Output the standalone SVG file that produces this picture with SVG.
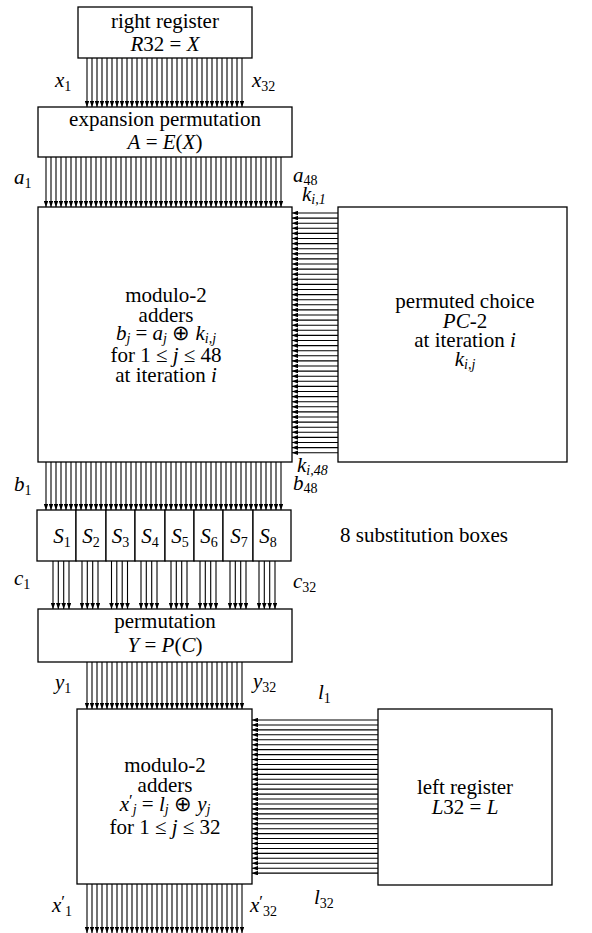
<svg xmlns="http://www.w3.org/2000/svg" width="592" height="933" viewBox="0 0 592 933">
<style>
.b{fill:#fff;stroke:#000;stroke-width:1.3}
.t{font-family:"Liberation Serif","Times New Roman",serif;font-size:21px;fill:#000;text-anchor:middle}
.l{font-family:"Liberation Serif","Times New Roman",serif;font-size:21px;fill:#000}
.i{font-style:italic}
.s{font-size:14px}
.p{font-size:17px}
#conn line{stroke:#000;stroke-width:1.1;marker-end:url(#ah)}
</style>
<defs>
<marker id="ah" markerUnits="userSpaceOnUse" markerWidth="6" markerHeight="4.6" refX="6" refY="2.3" orient="auto"><path d="M0,0 L6,2.3 L0,4.6 z" fill="#000"/></marker>
</defs>
<rect width="592" height="933" fill="#fff"/>
<g id="conn">
<g id="c-top">
<line x1="87" y1="58" x2="87" y2="107"/><line x1="92" y1="58" x2="92" y2="107"/><line x1="97" y1="58" x2="97" y2="107"/><line x1="102" y1="58" x2="102" y2="107"/><line x1="107" y1="58" x2="107" y2="107"/><line x1="112" y1="58" x2="112" y2="107"/><line x1="117" y1="58" x2="117" y2="107"/><line x1="122" y1="58" x2="122" y2="107"/><line x1="127" y1="58" x2="127" y2="107"/><line x1="132" y1="58" x2="132" y2="107"/><line x1="137" y1="58" x2="137" y2="107"/><line x1="142" y1="58" x2="142" y2="107"/><line x1="147" y1="58" x2="147" y2="107"/><line x1="152" y1="58" x2="152" y2="107"/><line x1="157" y1="58" x2="157" y2="107"/><line x1="162" y1="58" x2="162" y2="107"/><line x1="167" y1="58" x2="167" y2="107"/><line x1="172" y1="58" x2="172" y2="107"/><line x1="177" y1="58" x2="177" y2="107"/><line x1="182" y1="58" x2="182" y2="107"/><line x1="187" y1="58" x2="187" y2="107"/><line x1="192" y1="58" x2="192" y2="107"/><line x1="197" y1="58" x2="197" y2="107"/><line x1="202" y1="58" x2="202" y2="107"/><line x1="207" y1="58" x2="207" y2="107"/><line x1="212" y1="58" x2="212" y2="107"/><line x1="217" y1="58" x2="217" y2="107"/><line x1="222" y1="58" x2="222" y2="107"/><line x1="227" y1="58" x2="227" y2="107"/><line x1="232" y1="58" x2="232" y2="107"/><line x1="237" y1="58" x2="237" y2="107"/><line x1="242" y1="58" x2="242" y2="107"/>
</g>
<g id="c-exp">
<line x1="46" y1="157" x2="46" y2="207"/><line x1="51" y1="157" x2="51" y2="207"/><line x1="56" y1="157" x2="56" y2="207"/><line x1="61" y1="157" x2="61" y2="207"/><line x1="66" y1="157" x2="66" y2="207"/><line x1="71" y1="157" x2="71" y2="207"/><line x1="76" y1="157" x2="76" y2="207"/><line x1="81" y1="157" x2="81" y2="207"/><line x1="86" y1="157" x2="86" y2="207"/><line x1="91" y1="157" x2="91" y2="207"/><line x1="96" y1="157" x2="96" y2="207"/><line x1="101" y1="157" x2="101" y2="207"/><line x1="106" y1="157" x2="106" y2="207"/><line x1="111" y1="157" x2="111" y2="207"/><line x1="116" y1="157" x2="116" y2="207"/><line x1="121" y1="157" x2="121" y2="207"/><line x1="126" y1="157" x2="126" y2="207"/><line x1="131" y1="157" x2="131" y2="207"/><line x1="136" y1="157" x2="136" y2="207"/><line x1="141" y1="157" x2="141" y2="207"/><line x1="146" y1="157" x2="146" y2="207"/><line x1="151" y1="157" x2="151" y2="207"/><line x1="156" y1="157" x2="156" y2="207"/><line x1="161" y1="157" x2="161" y2="207"/><line x1="166" y1="157" x2="166" y2="207"/><line x1="171" y1="157" x2="171" y2="207"/><line x1="176" y1="157" x2="176" y2="207"/><line x1="181" y1="157" x2="181" y2="207"/><line x1="186" y1="157" x2="186" y2="207"/><line x1="191" y1="157" x2="191" y2="207"/><line x1="196" y1="157" x2="196" y2="207"/><line x1="201" y1="157" x2="201" y2="207"/><line x1="206" y1="157" x2="206" y2="207"/><line x1="211" y1="157" x2="211" y2="207"/><line x1="216" y1="157" x2="216" y2="207"/><line x1="221" y1="157" x2="221" y2="207"/><line x1="226" y1="157" x2="226" y2="207"/><line x1="231" y1="157" x2="231" y2="207"/><line x1="236" y1="157" x2="236" y2="207"/><line x1="241" y1="157" x2="241" y2="207"/><line x1="246" y1="157" x2="246" y2="207"/><line x1="251" y1="157" x2="251" y2="207"/><line x1="256" y1="157" x2="256" y2="207"/><line x1="261" y1="157" x2="261" y2="207"/><line x1="266" y1="157" x2="266" y2="207"/><line x1="271" y1="157" x2="271" y2="207"/><line x1="276" y1="157" x2="276" y2="207"/><line x1="281" y1="157" x2="281" y2="207"/>
</g>
<g id="c-key">
<line x1="338" y1="213" x2="292" y2="213"/><line x1="338" y1="218.1" x2="292" y2="218.1"/><line x1="338" y1="223.2" x2="292" y2="223.2"/><line x1="338" y1="228.3" x2="292" y2="228.3"/><line x1="338" y1="233.4" x2="292" y2="233.4"/><line x1="338" y1="238.5" x2="292" y2="238.5"/><line x1="338" y1="243.6" x2="292" y2="243.6"/><line x1="338" y1="248.7" x2="292" y2="248.7"/><line x1="338" y1="253.8" x2="292" y2="253.8"/><line x1="338" y1="258.9" x2="292" y2="258.9"/><line x1="338" y1="264" x2="292" y2="264"/><line x1="338" y1="269.1" x2="292" y2="269.1"/><line x1="338" y1="274.2" x2="292" y2="274.2"/><line x1="338" y1="279.3" x2="292" y2="279.3"/><line x1="338" y1="284.4" x2="292" y2="284.4"/><line x1="338" y1="289.5" x2="292" y2="289.5"/><line x1="338" y1="294.6" x2="292" y2="294.6"/><line x1="338" y1="299.7" x2="292" y2="299.7"/><line x1="338" y1="304.8" x2="292" y2="304.8"/><line x1="338" y1="309.9" x2="292" y2="309.9"/><line x1="338" y1="315" x2="292" y2="315"/><line x1="338" y1="320.1" x2="292" y2="320.1"/><line x1="338" y1="325.2" x2="292" y2="325.2"/><line x1="338" y1="330.3" x2="292" y2="330.3"/><line x1="338" y1="335.4" x2="292" y2="335.4"/><line x1="338" y1="340.5" x2="292" y2="340.5"/><line x1="338" y1="345.6" x2="292" y2="345.6"/><line x1="338" y1="350.7" x2="292" y2="350.7"/><line x1="338" y1="355.8" x2="292" y2="355.8"/><line x1="338" y1="360.9" x2="292" y2="360.9"/><line x1="338" y1="366" x2="292" y2="366"/><line x1="338" y1="371.1" x2="292" y2="371.1"/><line x1="338" y1="376.2" x2="292" y2="376.2"/><line x1="338" y1="381.3" x2="292" y2="381.3"/><line x1="338" y1="386.4" x2="292" y2="386.4"/><line x1="338" y1="391.5" x2="292" y2="391.5"/><line x1="338" y1="396.6" x2="292" y2="396.6"/><line x1="338" y1="401.7" x2="292" y2="401.7"/><line x1="338" y1="406.8" x2="292" y2="406.8"/><line x1="338" y1="411.9" x2="292" y2="411.9"/><line x1="338" y1="417" x2="292" y2="417"/><line x1="338" y1="422.1" x2="292" y2="422.1"/><line x1="338" y1="427.2" x2="292" y2="427.2"/><line x1="338" y1="432.3" x2="292" y2="432.3"/><line x1="338" y1="437.4" x2="292" y2="437.4"/><line x1="338" y1="442.5" x2="292" y2="442.5"/><line x1="338" y1="447.6" x2="292" y2="447.6"/><line x1="338" y1="452.7" x2="292" y2="452.7"/>
</g>
<g id="c-add">
<line x1="46" y1="462" x2="46" y2="510"/><line x1="51" y1="462" x2="51" y2="510"/><line x1="56" y1="462" x2="56" y2="510"/><line x1="61" y1="462" x2="61" y2="510"/><line x1="66" y1="462" x2="66" y2="510"/><line x1="71" y1="462" x2="71" y2="510"/><line x1="76" y1="462" x2="76" y2="510"/><line x1="81" y1="462" x2="81" y2="510"/><line x1="86" y1="462" x2="86" y2="510"/><line x1="91" y1="462" x2="91" y2="510"/><line x1="96" y1="462" x2="96" y2="510"/><line x1="101" y1="462" x2="101" y2="510"/><line x1="106" y1="462" x2="106" y2="510"/><line x1="111" y1="462" x2="111" y2="510"/><line x1="116" y1="462" x2="116" y2="510"/><line x1="121" y1="462" x2="121" y2="510"/><line x1="126" y1="462" x2="126" y2="510"/><line x1="131" y1="462" x2="131" y2="510"/><line x1="136" y1="462" x2="136" y2="510"/><line x1="141" y1="462" x2="141" y2="510"/><line x1="146" y1="462" x2="146" y2="510"/><line x1="151" y1="462" x2="151" y2="510"/><line x1="156" y1="462" x2="156" y2="510"/><line x1="161" y1="462" x2="161" y2="510"/><line x1="166" y1="462" x2="166" y2="510"/><line x1="171" y1="462" x2="171" y2="510"/><line x1="176" y1="462" x2="176" y2="510"/><line x1="181" y1="462" x2="181" y2="510"/><line x1="186" y1="462" x2="186" y2="510"/><line x1="191" y1="462" x2="191" y2="510"/><line x1="196" y1="462" x2="196" y2="510"/><line x1="201" y1="462" x2="201" y2="510"/><line x1="206" y1="462" x2="206" y2="510"/><line x1="211" y1="462" x2="211" y2="510"/><line x1="216" y1="462" x2="216" y2="510"/><line x1="221" y1="462" x2="221" y2="510"/><line x1="226" y1="462" x2="226" y2="510"/><line x1="231" y1="462" x2="231" y2="510"/><line x1="236" y1="462" x2="236" y2="510"/><line x1="241" y1="462" x2="241" y2="510"/><line x1="246" y1="462" x2="246" y2="510"/><line x1="251" y1="462" x2="251" y2="510"/><line x1="256" y1="462" x2="256" y2="510"/><line x1="261" y1="462" x2="261" y2="510"/><line x1="266" y1="462" x2="266" y2="510"/><line x1="271" y1="462" x2="271" y2="510"/><line x1="276" y1="462" x2="276" y2="510"/><line x1="281" y1="462" x2="281" y2="510"/>
</g>
<g id="c-sbox">
<line x1="53" y1="561" x2="53" y2="609"/><line x1="58.3" y1="561" x2="58.3" y2="609"/><line x1="63.7" y1="561" x2="63.7" y2="609"/><line x1="69" y1="561" x2="69" y2="609"/>
<line x1="82" y1="561" x2="82" y2="609"/><line x1="87.3" y1="561" x2="87.3" y2="609"/><line x1="92.7" y1="561" x2="92.7" y2="609"/><line x1="98" y1="561" x2="98" y2="609"/>
<line x1="111.5" y1="561" x2="111.5" y2="609"/><line x1="116.8" y1="561" x2="116.8" y2="609"/><line x1="122.2" y1="561" x2="122.2" y2="609"/><line x1="127.5" y1="561" x2="127.5" y2="609"/>
<line x1="141" y1="561" x2="141" y2="609"/><line x1="146.3" y1="561" x2="146.3" y2="609"/><line x1="151.7" y1="561" x2="151.7" y2="609"/><line x1="157" y1="561" x2="157" y2="609"/>
<line x1="171" y1="561" x2="171" y2="609"/><line x1="176.3" y1="561" x2="176.3" y2="609"/><line x1="181.7" y1="561" x2="181.7" y2="609"/><line x1="187" y1="561" x2="187" y2="609"/>
<line x1="200" y1="561" x2="200" y2="609"/><line x1="205.3" y1="561" x2="205.3" y2="609"/><line x1="210.7" y1="561" x2="210.7" y2="609"/><line x1="216" y1="561" x2="216" y2="609"/>
<line x1="230" y1="561" x2="230" y2="609"/><line x1="235.3" y1="561" x2="235.3" y2="609"/><line x1="240.7" y1="561" x2="240.7" y2="609"/><line x1="246" y1="561" x2="246" y2="609"/>
<line x1="259" y1="561" x2="259" y2="609"/><line x1="264.3" y1="561" x2="264.3" y2="609"/><line x1="269.7" y1="561" x2="269.7" y2="609"/><line x1="275" y1="561" x2="275" y2="609"/>
</g>
<g id="c-perm">
<line x1="87" y1="662" x2="87" y2="709"/><line x1="92" y1="662" x2="92" y2="709"/><line x1="97" y1="662" x2="97" y2="709"/><line x1="102" y1="662" x2="102" y2="709"/><line x1="107" y1="662" x2="107" y2="709"/><line x1="112" y1="662" x2="112" y2="709"/><line x1="117" y1="662" x2="117" y2="709"/><line x1="122" y1="662" x2="122" y2="709"/><line x1="127" y1="662" x2="127" y2="709"/><line x1="132" y1="662" x2="132" y2="709"/><line x1="137" y1="662" x2="137" y2="709"/><line x1="142" y1="662" x2="142" y2="709"/><line x1="147" y1="662" x2="147" y2="709"/><line x1="152" y1="662" x2="152" y2="709"/><line x1="157" y1="662" x2="157" y2="709"/><line x1="162" y1="662" x2="162" y2="709"/><line x1="167" y1="662" x2="167" y2="709"/><line x1="172" y1="662" x2="172" y2="709"/><line x1="177" y1="662" x2="177" y2="709"/><line x1="182" y1="662" x2="182" y2="709"/><line x1="187" y1="662" x2="187" y2="709"/><line x1="192" y1="662" x2="192" y2="709"/><line x1="197" y1="662" x2="197" y2="709"/><line x1="202" y1="662" x2="202" y2="709"/><line x1="207" y1="662" x2="207" y2="709"/><line x1="212" y1="662" x2="212" y2="709"/><line x1="217" y1="662" x2="217" y2="709"/><line x1="222" y1="662" x2="222" y2="709"/><line x1="227" y1="662" x2="227" y2="709"/><line x1="232" y1="662" x2="232" y2="709"/><line x1="237" y1="662" x2="237" y2="709"/><line x1="242" y1="662" x2="242" y2="709"/>
</g>
<g id="c-left">
<line x1="378" y1="720" x2="252" y2="720"/><line x1="378" y1="724.94" x2="252" y2="724.94"/><line x1="378" y1="729.88" x2="252" y2="729.88"/><line x1="378" y1="734.82" x2="252" y2="734.82"/><line x1="378" y1="739.76" x2="252" y2="739.76"/><line x1="378" y1="744.7" x2="252" y2="744.7"/><line x1="378" y1="749.64" x2="252" y2="749.64"/><line x1="378" y1="754.58" x2="252" y2="754.58"/><line x1="378" y1="759.52" x2="252" y2="759.52"/><line x1="378" y1="764.46" x2="252" y2="764.46"/><line x1="378" y1="769.4" x2="252" y2="769.4"/><line x1="378" y1="774.34" x2="252" y2="774.34"/><line x1="378" y1="779.28" x2="252" y2="779.28"/><line x1="378" y1="784.22" x2="252" y2="784.22"/><line x1="378" y1="789.16" x2="252" y2="789.16"/><line x1="378" y1="794.1" x2="252" y2="794.1"/><line x1="378" y1="799.04" x2="252" y2="799.04"/><line x1="378" y1="803.98" x2="252" y2="803.98"/><line x1="378" y1="808.92" x2="252" y2="808.92"/><line x1="378" y1="813.86" x2="252" y2="813.86"/><line x1="378" y1="818.8" x2="252" y2="818.8"/><line x1="378" y1="823.74" x2="252" y2="823.74"/><line x1="378" y1="828.68" x2="252" y2="828.68"/><line x1="378" y1="833.62" x2="252" y2="833.62"/><line x1="378" y1="838.56" x2="252" y2="838.56"/><line x1="378" y1="843.5" x2="252" y2="843.5"/><line x1="378" y1="848.44" x2="252" y2="848.44"/><line x1="378" y1="853.38" x2="252" y2="853.38"/><line x1="378" y1="858.32" x2="252" y2="858.32"/><line x1="378" y1="863.26" x2="252" y2="863.26"/><line x1="378" y1="868.2" x2="252" y2="868.2"/><line x1="378" y1="873.14" x2="252" y2="873.14"/>
</g>
<g id="c-out">
<line x1="87" y1="884" x2="87" y2="933"/><line x1="92" y1="884" x2="92" y2="933"/><line x1="97" y1="884" x2="97" y2="933"/><line x1="102" y1="884" x2="102" y2="933"/><line x1="107" y1="884" x2="107" y2="933"/><line x1="112" y1="884" x2="112" y2="933"/><line x1="117" y1="884" x2="117" y2="933"/><line x1="122" y1="884" x2="122" y2="933"/><line x1="127" y1="884" x2="127" y2="933"/><line x1="132" y1="884" x2="132" y2="933"/><line x1="137" y1="884" x2="137" y2="933"/><line x1="142" y1="884" x2="142" y2="933"/><line x1="147" y1="884" x2="147" y2="933"/><line x1="152" y1="884" x2="152" y2="933"/><line x1="157" y1="884" x2="157" y2="933"/><line x1="162" y1="884" x2="162" y2="933"/><line x1="167" y1="884" x2="167" y2="933"/><line x1="172" y1="884" x2="172" y2="933"/><line x1="177" y1="884" x2="177" y2="933"/><line x1="182" y1="884" x2="182" y2="933"/><line x1="187" y1="884" x2="187" y2="933"/><line x1="192" y1="884" x2="192" y2="933"/><line x1="197" y1="884" x2="197" y2="933"/><line x1="202" y1="884" x2="202" y2="933"/><line x1="207" y1="884" x2="207" y2="933"/><line x1="212" y1="884" x2="212" y2="933"/><line x1="217" y1="884" x2="217" y2="933"/><line x1="222" y1="884" x2="222" y2="933"/><line x1="227" y1="884" x2="227" y2="933"/><line x1="232" y1="884" x2="232" y2="933"/><line x1="237" y1="884" x2="237" y2="933"/><line x1="242" y1="884" x2="242" y2="933"/>
</g>
</g>

<g id="right-register">
<rect class="b" x="78" y="7" width="174" height="51"/>
<text class="t" x="165" y="28">right register</text>
<text class="t" x="165" y="51"><tspan class="i">R</tspan>32 = <tspan class="i">X</tspan></text>
</g>
<g id="expansion">
<rect class="b" x="38" y="107" width="254" height="50"/>
<text class="t" x="165" y="126">expansion permutation</text>
<text class="t" x="165" y="149"><tspan class="i">A</tspan> = <tspan class="i">E</tspan>(<tspan class="i">X</tspan>)</text>
</g>
<g id="adders1">
<rect class="b" x="38" y="207" width="254" height="255"/>
<text class="t" x="166" y="302">modulo-2</text>
<text class="t" x="166" y="322">adders</text>
<text class="t" x="166" y="340"><tspan class="i">b</tspan><tspan class="s i" dy="3">j</tspan><tspan dy="-3"> = </tspan><tspan class="i">a</tspan><tspan class="s i" dy="3">j</tspan><tspan dy="-3"> ⊕ </tspan><tspan class="i">k</tspan><tspan class="s i" dy="3">i,j</tspan></text>
<text class="t" x="166" y="362">for 1 ≤ <tspan class="i">j</tspan> ≤ 48</text>
<text class="t" x="166" y="382">at iteration <tspan class="i">i</tspan></text>
</g>
<g id="pc2">
<rect class="b" x="338" y="207" width="229" height="255"/>
<text class="t" x="465" y="308">permuted choice</text>
<text class="t" x="465" y="328"><tspan class="i">PC</tspan>-2</text>
<text class="t" x="465" y="347">at iteration <tspan class="i">i</tspan></text>
<text class="t" x="465" y="366"><tspan class="i">k</tspan><tspan class="s i" dy="3">i,j</tspan></text>
</g>
<g id="sboxes">
<rect class="b" x="37" y="510" width="39" height="51"/>
<rect class="b" x="76" y="510" width="30" height="51"/>
<rect class="b" x="106" y="510" width="29" height="51"/>
<rect class="b" x="135" y="510" width="30" height="51"/>
<rect class="b" x="165" y="510" width="29" height="51"/>
<rect class="b" x="194" y="510" width="29" height="51"/>
<rect class="b" x="223" y="510" width="30" height="51"/>
<rect class="b" x="253" y="510" width="38" height="51"/>
<text class="t" x="62" y="543"><tspan class="i">S</tspan><tspan class="s" dy="4">1</tspan></text>
<text class="t" x="91" y="543"><tspan class="i">S</tspan><tspan class="s" dy="4">2</tspan></text>
<text class="t" x="120.5" y="543"><tspan class="i">S</tspan><tspan class="s" dy="4">3</tspan></text>
<text class="t" x="150" y="543"><tspan class="i">S</tspan><tspan class="s" dy="4">4</tspan></text>
<text class="t" x="180" y="543"><tspan class="i">S</tspan><tspan class="s" dy="4">5</tspan></text>
<text class="t" x="209" y="543"><tspan class="i">S</tspan><tspan class="s" dy="4">6</tspan></text>
<text class="t" x="239" y="543"><tspan class="i">S</tspan><tspan class="s" dy="4">7</tspan></text>
<text class="t" x="268" y="543"><tspan class="i">S</tspan><tspan class="s" dy="4">8</tspan></text>
</g>
<g id="permutation">
<rect class="b" x="38" y="609" width="254" height="53"/>
<text class="t" x="165" y="628">permutation</text>
<text class="t" x="165" y="652"><tspan class="i">Y</tspan> = <tspan class="i">P</tspan>(<tspan class="i">C</tspan>)</text>
</g>
<g id="adders2">
<rect class="b" x="77" y="709" width="175" height="175"/>
<text class="t" x="165" y="772">modulo-2</text>
<text class="t" x="165" y="792">adders</text>
<text class="t" x="165" y="811"><tspan class="i">x</tspan><tspan class="p" dy="-5">′</tspan><tspan class="s i" dy="8">j</tspan><tspan dy="-3"> = </tspan><tspan class="i">l</tspan><tspan class="s i" dy="3">j</tspan><tspan dy="-3"> ⊕ </tspan><tspan class="i">y</tspan><tspan class="s i" dy="3">j</tspan></text>
<text class="t" x="165" y="834">for 1 ≤ <tspan class="i">j</tspan> ≤ 32</text>
</g>
<g id="left-register">
<rect class="b" x="378" y="709" width="174" height="176"/>
<text class="t" x="465" y="794">left register</text>
<text class="t" x="465" y="814"><tspan class="i">L</tspan>32 = <tspan class="i">L</tspan></text>
</g>
<g id="labels">
<text class="l" x="55" y="87"><tspan class="i">x</tspan><tspan class="s" dy="4">1</tspan></text>
<text class="l" x="252" y="87"><tspan class="i">x</tspan><tspan class="s" dy="4">32</tspan></text>
<text class="l" x="14" y="184"><tspan class="i">a</tspan><tspan class="s" dy="4">1</tspan></text>
<text class="l" x="293" y="182"><tspan class="i">a</tspan><tspan class="s" dy="3">48</tspan></text>
<text class="l" x="302" y="201"><tspan class="i">k</tspan><tspan class="s i" dy="3">i,1</tspan></text>
<text class="l" x="297" y="472"><tspan class="i">k</tspan><tspan class="s i" dy="3">i,48</tspan></text>
<text class="l" x="293" y="490"><tspan class="i">b</tspan><tspan class="s" dy="3">48</tspan></text>
<text class="l" x="14" y="491"><tspan class="i">b</tspan><tspan class="s" dy="4">1</tspan></text>
<text class="l" x="340" y="542">8 substitution boxes</text>
<text class="l" x="14" y="585"><tspan class="i">c</tspan><tspan class="s" dy="4">1</tspan></text>
<text class="l" x="293" y="588"><tspan class="i">c</tspan><tspan class="s" dy="4">32</tspan></text>
<text class="l" x="55" y="689"><tspan class="i">y</tspan><tspan class="s" dy="4">1</tspan></text>
<text class="l" x="253" y="688"><tspan class="i">y</tspan><tspan class="s" dy="4">32</tspan></text>
<text class="l" x="318" y="699"><tspan class="i">l</tspan><tspan class="s" dy="4">1</tspan></text>
<text class="l" x="314" y="904"><tspan class="i">l</tspan><tspan class="s" dy="4">32</tspan></text>
<text class="l" x="52" y="912"><tspan class="i">x</tspan><tspan class="p" dy="-5">′</tspan><tspan class="s" dy="9">1</tspan></text>
<text class="l" x="250" y="912"><tspan class="i">x</tspan><tspan class="p" dy="-5">′</tspan><tspan class="s" dy="9">32</tspan></text>
</g>
</svg>
